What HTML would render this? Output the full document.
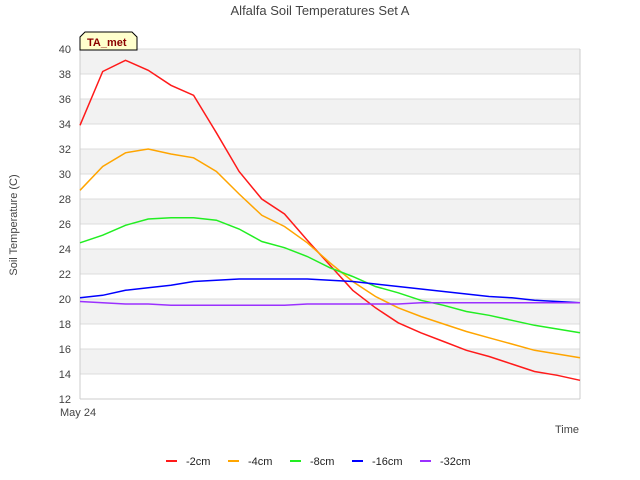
<!DOCTYPE html>
<html><head><meta charset="utf-8"><style>
body{margin:0;background:#fff;}
svg{display:block;font-family:"Liberation Sans","DejaVu Sans",sans-serif;}
</style></head><body>
<svg id="chart" width="640" height="480" xmlns="http://www.w3.org/2000/svg">
<text x="320" y="15" text-anchor="middle" font-size="13" fill="#444">Alfalfa Soil Temperatures Set A</text>
<text x="17" y="225" text-anchor="middle" font-size="11" fill="#444" transform="rotate(-90 17 225)">Soil Temperature (C)</text>
<text x="579" y="433" text-anchor="end" font-size="11" fill="#444">Time</text>
<text x="60" y="416" font-size="11" fill="#444">May 24</text>
<g id="bands"></g><g id="yticks"></g><g id="series"></g><g id="legend"></g>
<g>
<path d="M80,50 L80,37 L85,32 L132,32 L137,37 L137,50 Z" fill="#ffffcc" stroke="#000" stroke-width="1"/>
<text x="87" y="46" font-size="11" font-weight="bold" fill="#8b0000">TA_met</text>
</g>
</svg>
<script>
const yTicks=[12,14,16,18,20,22,24,26,28,30,32,34,36,38,40];
const seriesNames=["-2cm","-4cm","-8cm","-16cm","-32cm"];
const seriesColors=["#ff1a1a","#ffa500","#22ee22","#0000ff","#9b30ff"];
const s2=[33.9,38.2,39.1,38.3,37.1,36.3,33.3,30.2,28.0,26.8,24.7,22.7,20.7,19.3,18.1,17.3,16.6,15.9,15.4,14.8,14.2,13.9,13.5];
const s4=[28.7,30.6,31.7,32.0,31.6,31.3,30.2,28.4,26.7,25.8,24.5,22.9,21.4,20.2,19.3,18.6,18.0,17.4,16.9,16.4,15.9,15.6,15.3];
const s8=[24.5,25.1,25.9,26.4,26.5,26.5,26.3,25.6,24.6,24.1,23.4,22.5,21.8,21.0,20.5,19.9,19.5,19.0,18.7,18.3,17.9,17.6,17.3];
const s16=[20.1,20.3,20.7,20.9,21.1,21.4,21.5,21.6,21.6,21.6,21.6,21.5,21.4,21.2,21.0,20.8,20.6,20.4,20.2,20.1,19.9,19.8,19.7];
const s32=[19.8,19.7,19.6,19.6,19.5,19.5,19.5,19.5,19.5,19.5,19.6,19.6,19.6,19.6,19.6,19.7,19.7,19.7,19.7,19.7,19.7,19.7,19.7];
const allSeries=[s2,s4,s8,s16,s32];
const X0=80,X1=580,Y0=399,Y1=49,VMIN=12,VMAX=40;
const NS="http://www.w3.org/2000/svg";
function xs(i,n){return X0+(X1-X0)*i/(n-1);}
function ys(v){return Y0-(v-VMIN)/(VMAX-VMIN)*(Y0-Y1);}
function mk(t,a,p){const e=document.createElementNS(NS,t);for(const k in a)e.setAttribute(k,a[k]);p.appendChild(e);return e;}
const bands=document.getElementById('bands');
for(let i=0;i<yTicks.length-1;i++){
  if(i%2===1){const r=mk('rect',{x:X0,y:ys(yTicks[i+1]),width:X1-X0,height:ys(yTicks[i])-ys(yTicks[i+1]),fill:'#f2f2f2'},bands);
  
  }
}
const yt=document.getElementById('yticks');
yTicks.forEach(v=>{
  const l=mk('line',{x1:X0,x2:X1,y1:ys(v),y2:ys(v),stroke:'#dcdcdc','stroke-width':1},yt);
  
  
  const t=mk('text',{x:71,y:ys(v)+4,'text-anchor':'end','font-size':11,fill:'#444'},yt);
  t.textContent=v;
  
  
});
mk('line',{x1:X0,x2:X0,y1:Y1,y2:Y0,stroke:'#ccc'},yt);
mk('line',{x1:X1,x2:X1,y1:Y1,y2:Y0,stroke:'#ccc'},yt);
mk('line',{x1:X0,x2:X1,y1:Y0,y2:Y0,stroke:'#ccc'},yt);
const sg=document.getElementById('series');
allSeries.forEach((d,k)=>{
  const pts=d.map((v,i)=>xs(i,d.length).toFixed(1)+','+ys(v).toFixed(1)).join(' ');
  const p=mk('polyline',{points:pts,fill:'none',stroke:seriesColors[k],'stroke-width':1.5},sg);
  
  
});
const lg=document.getElementById('legend');
const lx=[166,228,290,352,420];
seriesNames.forEach((n,k)=>{
  const g=mk('g',{},lg);
  
  
  mk('line',{x1:lx[k],x2:lx[k]+11,y1:461,y2:461,stroke:seriesColors[k],'stroke-width':2},g);
  const t=mk('text',{x:lx[k]+20,y:465,'font-size':11,fill:'#222'},g);
  t.textContent=n;
});
</script>
</body></html>
